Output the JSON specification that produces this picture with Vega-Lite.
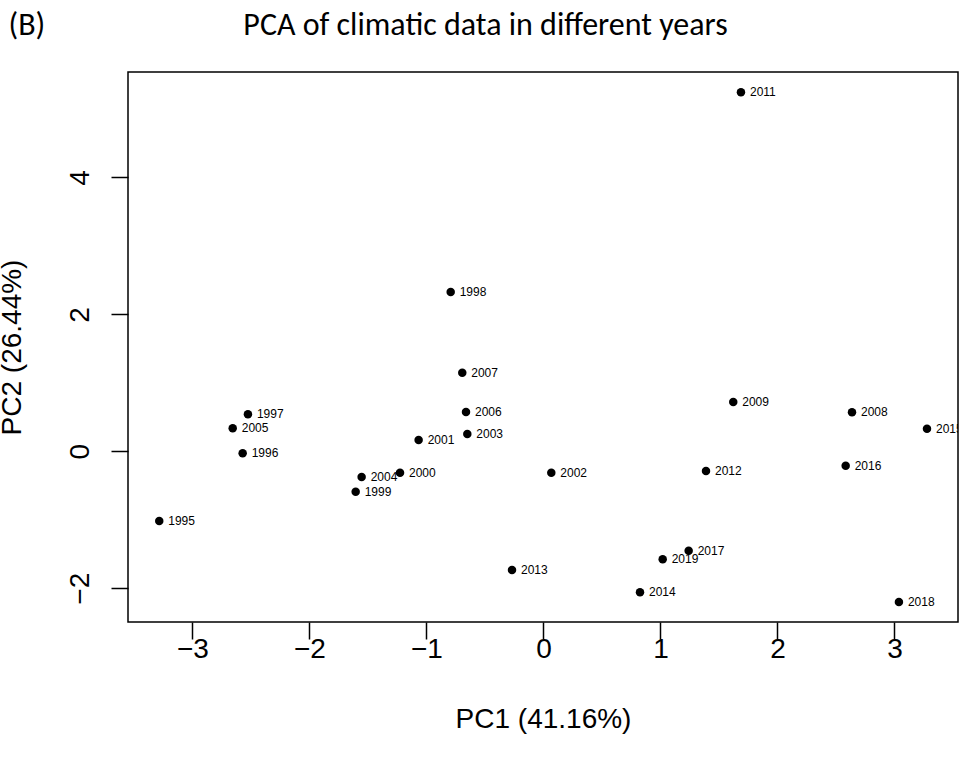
{
  "$schema": "https://vega.github.io/schema/vega-lite/v6.json",
  "width": 830,
  "height": 550,
  "autosize": {"type": "none"},
  "padding": {"left": 128, "top": 72, "right": 7, "bottom": 143},
  "background": "white",
  "config": {
    "view": {"stroke": "black", "strokeWidth": 1.5},
    "axis": {"grid": false}
  },
  "data": {
    "values": [
      {"year": "1995", "PC1": -3.284, "PC2": -1.018},
      {"year": "1996", "PC1": -2.571, "PC2": -0.029},
      {"year": "1997", "PC1": -2.526, "PC2": 0.541},
      {"year": "1998", "PC1": -0.793, "PC2": 2.327},
      {"year": "1999", "PC1": -1.605, "PC2": -0.590},
      {"year": "2000", "PC1": -1.226, "PC2": -0.313},
      {"year": "2001", "PC1": -1.067, "PC2": 0.165},
      {"year": "2002", "PC1": 0.067, "PC2": -0.313},
      {"year": "2003", "PC1": -0.651, "PC2": 0.253},
      {"year": "2004", "PC1": -1.554, "PC2": -0.375},
      {"year": "2005", "PC1": -2.656, "PC2": 0.336},
      {"year": "2006", "PC1": -0.662, "PC2": 0.574},
      {"year": "2007", "PC1": -0.694, "PC2": 1.148},
      {"year": "2008", "PC1": 2.637, "PC2": 0.570},
      {"year": "2009", "PC1": 1.622, "PC2": 0.720},
      {"year": "2011", "PC1": 1.688, "PC2": 5.245},
      {"year": "2012", "PC1": 1.389, "PC2": -0.288},
      {"year": "2013", "PC1": -0.269, "PC2": -1.734},
      {"year": "2014", "PC1": 0.825, "PC2": -2.060},
      {"year": "2015", "PC1": 3.278, "PC2": 0.330},
      {"year": "2016", "PC1": 2.583, "PC2": -0.210},
      {"year": "2017", "PC1": 1.241, "PC2": -1.452},
      {"year": "2018", "PC1": 3.038, "PC2": -2.202},
      {"year": "2019", "PC1": 1.019, "PC2": -1.578}
    ]
  },
  "layer": [
    {
      "mark": {"type": "circle", "size": 72, "color": "black", "opacity": 1},
      "encoding": {
        "x": {
          "field": "PC1",
          "type": "quantitative",
          "scale": {"domain": [-3.551, 3.543], "nice": false, "zero": false},
          "axis": {
            "orient": "bottom",
            "values": [-3, -2, -1, 0, 1, 2, 3],
            "format": "d",
            "domain": false,
            "ticks": true,
            "tickSize": 17,
            "tickWidth": 1.5,
            "tickColor": "black",
            "labelFont": "Liberation Sans",
            "labelFontSize": 28,
            "labelColor": "black",
            "labelPadding": -4,
            "labelFlush": false,
            "title": "PC1 (41.16%)",
            "titleFont": "Liberation Sans",
            "titleFontSize": 28,
            "titleFontWeight": "normal",
            "titleColor": "black",
            "titlePadding": 42
          }
        },
        "y": {
          "field": "PC2",
          "type": "quantitative",
          "scale": {"domain": [-2.494, 5.541], "nice": false, "zero": false},
          "axis": {
            "orient": "left",
            "values": [-2, 0, 2, 4],
            "format": "d",
            "domain": false,
            "tickSize": 17,
            "tickWidth": 1.5,
            "tickColor": "black",
            "labelFont": "Liberation Sans",
            "labelFontSize": 28,
            "labelColor": "black",
            "labelAngle": -90,
            "labelAlign": "center",
            "labelBaseline": "alphabetic",
            "labelPadding": 23,
            "labelFlush": false,
            "title": "PC2 (26.44%)",
            "titleFont": "Liberation Sans",
            "titleFontSize": 28,
            "titleFontWeight": "normal",
            "titleColor": "black",
            "titleX": -108,
            "titleY": 275,
            "titleAngle": -90,
            "titleAlign": "center",
            "titleBaseline": "alphabetic"
          }
        }
      }
    },
    {
      "mark": {"type": "text", "align": "left", "baseline": "middle", "dx": 9, "fontSize": 12, "font": "Liberation Sans", "color": "black", "clip": true},
      "encoding": {
        "x": {
          "field": "PC1",
          "type": "quantitative",
          "axis": {
            "orient": "top",
            "labels": false,
            "ticks": false,
            "domain": false,
            "title": "PCA of climatic data in different years",
            "titleX": 357,
            "titleY": -38,
            "titleAlign": "center",
            "titleBaseline": "alphabetic",
            "titleAngle": 0,
            "titleFont": "Carlito, Lato",
            "titleFontSize": 32,
            "titleFontWeight": "normal",
            "titleColor": "black"
          }
        },
        "y": {
          "field": "PC2",
          "type": "quantitative",
          "axis": {
            "orient": "right",
            "labels": false,
            "ticks": false,
            "domain": false,
            "title": "(B)",
            "titleX": -950,
            "titleY": -38,
            "titleAlign": "left",
            "titleBaseline": "alphabetic",
            "titleAngle": 0,
            "titleFont": "Carlito, Lato",
            "titleFontSize": 32,
            "titleFontWeight": "normal",
            "titleColor": "black"
          }
        },
        "text": {"field": "year"}
      }
    }
  ]
}
